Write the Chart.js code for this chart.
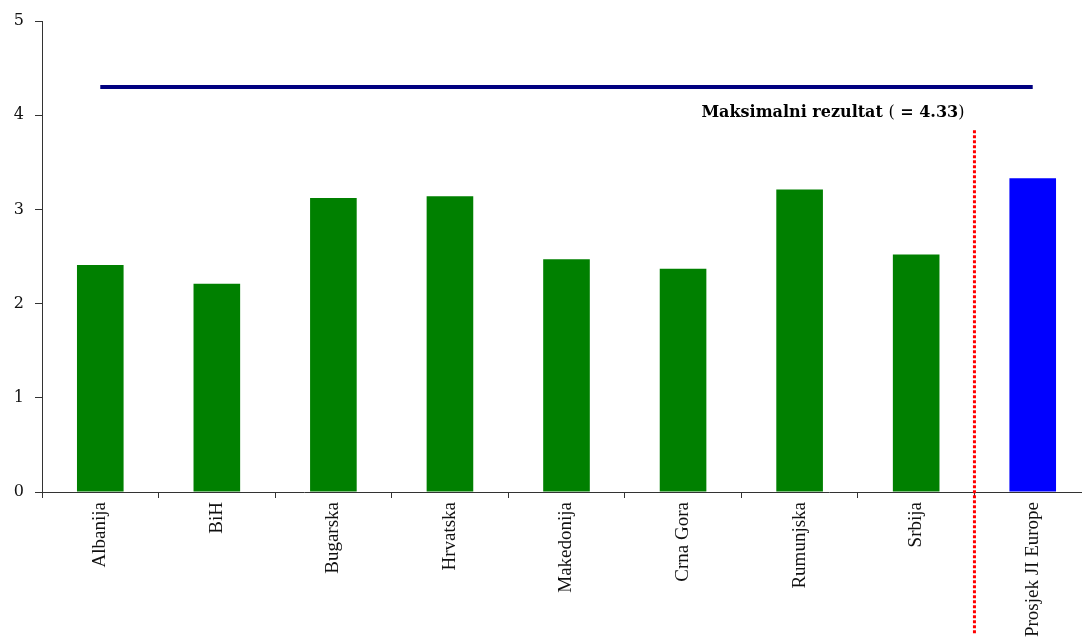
<!DOCTYPE html>
<html>
<head>
<meta charset="utf-8">
<script src="https://cdn.jsdelivr.net/npm/chart.js@4"></script>
<style>
  html, body { margin: 0; padding: 0; background: #fff; overflow: hidden; }
  #wrap { width: 1091px; height: 641px; position: relative; }
</style>
</head>
<body>
<div id="wrap"><canvas id="chart"></canvas></div>
<script>
// categories and scores
const countries = ['Albanija', 'BiH', 'Bugarska', 'Hrvatska', 'Makedonija', 'Crna Gora', 'Rumunjska', 'Srbija', 'Prosjek JI Europe'];
const scores    = [2.41, 2.21, 3.12, 3.14, 2.47, 2.37, 3.21, 2.52, 3.33];
const maxLine   = [4.3, 4.3, 4.3, 4.3, 4.3, 4.3, 4.3, 4.3, 4.3];
const maxLabel  = ['Maksimalni rezultat ', '(', ' = 4.33', ')'];
const yTicks    = [0, 1, 2, 3, 4, 5];

const barColors = countries.map((c, i) => i === countries.length - 1 ? '#0000ff' : '#008000');

// red dotted separator + label for the max line
const separator = {
  id: 'separator',
  afterDatasetsDraw(chart) {
    const { ctx, scales: { x, y } } = chart;
    const n = countries.length;
    const sx = (x.getPixelForValue(n - 2) + x.getPixelForValue(n - 1)) / 2;
    ctx.save();
    ctx.strokeStyle = '#ff0000';
    ctx.lineWidth = 3;
    ctx.setLineDash([3, 2]);
    ctx.beginPath();
    ctx.moveTo(sx, y.getPixelForValue(3.84));
    ctx.lineTo(sx, chart.height - 6);
    ctx.stroke();
    ctx.setLineDash([]);

    // label, mixed bold / normal, right aligned left of separator
    const fonts = ['bold 16px "DejaVu Serif"', '16px "DejaVu Serif"', 'bold 16px "DejaVu Serif"', '16px "DejaVu Serif"'];
    let total = 0;
    maxLabel.forEach((t, i) => { ctx.font = fonts[i]; total += ctx.measureText(t).width; });
    let tx = sx - 10 - total;
    const ty = y.getPixelForValue(4.02);
    ctx.fillStyle = '#000';
    ctx.textBaseline = 'middle';
    maxLabel.forEach((t, i) => {
      ctx.font = fonts[i];
      ctx.fillText(t, tx, ty);
      tx += ctx.measureText(t).width;
    });
    ctx.restore();
  }
};

new Chart(document.getElementById('chart'), {
  data: {
    labels: countries,
    datasets: [
      {
        type: 'line',
        data: maxLine,
        borderColor: '#000080',
        borderWidth: 4,
        pointRadius: 0,
        fill: false,
        order: 0
      },
      {
        type: 'bar',
        data: scores,
        backgroundColor: barColors,
        borderWidth: 0,
        barPercentage: 0.4,
        categoryPercentage: 1,
        order: 1
      }
    ]
  },
  options: {
    responsive: true,
    maintainAspectRatio: false,
    animation: false,
    layout: { padding: { top: 21, left: 0, right: 0, bottom: 0 } },
    plugins: { legend: { display: false }, tooltip: { enabled: false } },
    scales: {
      x: {
        offset: true,
        grid: { offset: true, drawOnChartArea: false, drawTicks: true, tickLength: 6, color: '#333' },
        border: { color: '#333', width: 1 },
        ticks: {
          autoSkip: false, maxRotation: 90, minRotation: 90,
          color: '#111', padding: 4,
          font: { family: '"Liberation Serif"', size: 19 }
        },
        afterFit(scale) { scale.height = 149; }
      },
      y: {
        min: 0, max: 5,
        afterBuildTicks(scale) { scale.ticks = yTicks.map(v => ({ value: v })); },
        grid: { drawOnChartArea: false, drawTicks: true, tickLength: 7, color: '#333' },
        border: { color: '#333', width: 1 },
        ticks: {
          color: '#111', padding: 11,
          font: { family: '"DejaVu Serif"', size: 16 }
        },
        afterFit(scale) { scale.width = 42; }
      }
    }
  },
  plugins: [separator]
});
</script>
</body>
</html>
